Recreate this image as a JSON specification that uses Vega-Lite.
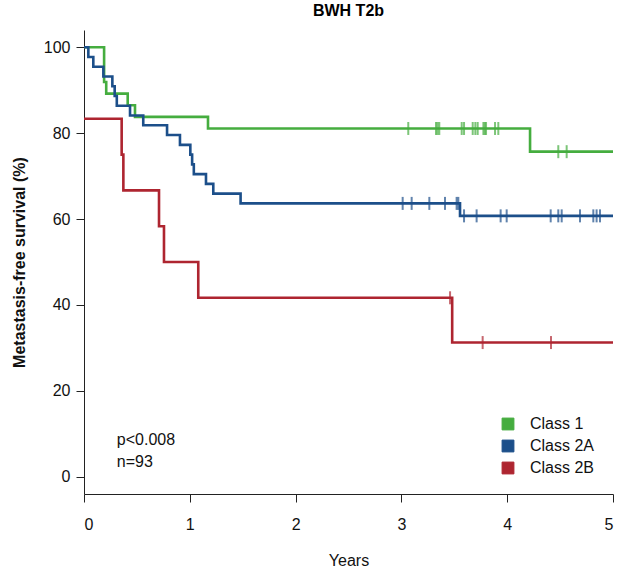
{
  "$schema": "https://vega.github.io/schema/vega-lite/v6.json",
  "width": 529,
  "height": 464,
  "autosize": {"type": "none"},
  "padding": {"left": 84, "top": 30, "right": 5, "bottom": 77},
  "title": {"text": "BWH T2b", "fontSize": 16, "fontWeight": "bold", "font": "Liberation Sans", "color": "black", "offset": 11, "anchor": "middle"},
  "config": {
    "view": {"stroke": null},
    "font": "Liberation Sans",
    "axis": {"grid": false, "domainColor": "#222", "tickColor": "#222", "labelColor": "#111", "titleColor": "#111", "labelFont": "Liberation Sans", "titleFont": "Liberation Sans", "labelFontSize": 16, "titleFontSize": 16, "tickSize": 8}
  },
  "datasets": {
    "surv": [
      {"class": "Class 1", "t": 0, "s": 100},
      {"class": "Class 1", "t": 0.19, "s": 91.89},
      {"class": "Class 1", "t": 0.21, "s": 89.19},
      {"class": "Class 1", "t": 0.413, "s": 86.49},
      {"class": "Class 1", "t": 0.482, "s": 83.78},
      {"class": "Class 1", "t": 1.172, "s": 81.08},
      {"class": "Class 1", "t": 4.216, "s": 75.68},
      {"class": "Class 1", "t": 5, "s": 75.68},
      {"class": "Class 2A", "t": 0, "s": 100},
      {"class": "Class 2A", "t": 0.041, "s": 97.73},
      {"class": "Class 2A", "t": 0.088, "s": 95.45},
      {"class": "Class 2A", "t": 0.183, "s": 93.18},
      {"class": "Class 2A", "t": 0.268, "s": 90.91},
      {"class": "Class 2A", "t": 0.29, "s": 88.64},
      {"class": "Class 2A", "t": 0.31, "s": 86.36},
      {"class": "Class 2A", "t": 0.435, "s": 84.09},
      {"class": "Class 2A", "t": 0.56, "s": 81.82},
      {"class": "Class 2A", "t": 0.785, "s": 79.55},
      {"class": "Class 2A", "t": 0.907, "s": 77.27},
      {"class": "Class 2A", "t": 1.005, "s": 75.0},
      {"class": "Class 2A", "t": 1.022, "s": 72.73},
      {"class": "Class 2A", "t": 1.038, "s": 70.45},
      {"class": "Class 2A", "t": 1.153, "s": 68.18},
      {"class": "Class 2A", "t": 1.222, "s": 65.91},
      {"class": "Class 2A", "t": 1.48, "s": 63.64},
      {"class": "Class 2A", "t": 3.554, "s": 60.74},
      {"class": "Class 2A", "t": 5, "s": 60.74},
      {"class": "Class 2B", "t": 0, "s": 83.33},
      {"class": "Class 2B", "t": 0.356, "s": 75.0},
      {"class": "Class 2B", "t": 0.372, "s": 66.67},
      {"class": "Class 2B", "t": 0.709, "s": 58.33},
      {"class": "Class 2B", "t": 0.756, "s": 50.0},
      {"class": "Class 2B", "t": 1.08, "s": 41.67},
      {"class": "Class 2B", "t": 3.48, "s": 31.25},
      {"class": "Class 2B", "t": 5, "s": 31.25}
    ],
    "cens": [
      {"class": "Class 1", "t": 3.065, "s": 81.08},
      {"class": "Class 1", "t": 3.327, "s": 81.08},
      {"class": "Class 1", "t": 3.342, "s": 81.08},
      {"class": "Class 1", "t": 3.358, "s": 81.08},
      {"class": "Class 1", "t": 3.57, "s": 81.08},
      {"class": "Class 1", "t": 3.592, "s": 81.08},
      {"class": "Class 1", "t": 3.674, "s": 81.08},
      {"class": "Class 1", "t": 3.699, "s": 81.08},
      {"class": "Class 1", "t": 3.721, "s": 81.08},
      {"class": "Class 1", "t": 3.775, "s": 81.08},
      {"class": "Class 1", "t": 3.788, "s": 81.08},
      {"class": "Class 1", "t": 3.8, "s": 81.08},
      {"class": "Class 1", "t": 3.885, "s": 81.08},
      {"class": "Class 1", "t": 3.916, "s": 81.08},
      {"class": "Class 1", "t": 4.483, "s": 75.68},
      {"class": "Class 1", "t": 4.562, "s": 75.68},
      {"class": "Class 2A", "t": 3.012, "s": 63.64},
      {"class": "Class 2A", "t": 3.097, "s": 63.64},
      {"class": "Class 2A", "t": 3.264, "s": 63.64},
      {"class": "Class 2A", "t": 3.412, "s": 63.64},
      {"class": "Class 2A", "t": 3.522, "s": 63.64},
      {"class": "Class 2A", "t": 3.538, "s": 63.64},
      {"class": "Class 2A", "t": 3.592, "s": 60.74},
      {"class": "Class 2A", "t": 3.711, "s": 60.74},
      {"class": "Class 2A", "t": 3.938, "s": 60.74},
      {"class": "Class 2A", "t": 3.995, "s": 60.74},
      {"class": "Class 2A", "t": 4.411, "s": 60.74},
      {"class": "Class 2A", "t": 4.483, "s": 60.74},
      {"class": "Class 2A", "t": 4.515, "s": 60.74},
      {"class": "Class 2A", "t": 4.688, "s": 60.74},
      {"class": "Class 2A", "t": 4.814, "s": 60.74},
      {"class": "Class 2A", "t": 4.845, "s": 60.74},
      {"class": "Class 2A", "t": 4.877, "s": 60.74},
      {"class": "Class 2B", "t": 3.46, "s": 41.67},
      {"class": "Class 2B", "t": 3.768, "s": 31.25},
      {"class": "Class 2B", "t": 4.414, "s": 31.25}
    ],
    "notes": [
      {"label": "p<0.008", "t": 0.31, "s": 8.6},
      {"label": "n=93", "t": 0.31, "s": 3.5}
    ]
  },
  "layer": [
    {
      "data": {"name": "surv"},
      "mark": {"type": "line", "interpolate": "step-after", "strokeWidth": 2.6},
      "encoding": {
        "x": {"field": "t", "type": "quantitative", "scale": {"domain": [0, 5], "nice": false, "zero": false}, "axis": {"values": [0, 1, 2, 3, 4, 5], "format": "d", "title": "Years", "titleFontWeight": "normal", "labelPadding": 14, "titlePadding": 20}},
        "y": {"field": "s", "type": "quantitative", "scale": {"domain": [-4, 104], "nice": false, "zero": false}, "axis": {"values": [0, 20, 40, 60, 80, 100], "title": "Metastasis-free survival (%)", "titleFontWeight": "bold", "labelPadding": 6, "titlePadding": 16}},
        "color": {
          "field": "class", "type": "nominal",
          "scale": {"domain": ["Class 1", "Class 2A", "Class 2B"], "range": ["#45ad3f", "#1c4f8a", "#ae2530"]},
          "legend": {
            "title": null, "orient": "none", "legendX": 416, "legendY": 386,
            "symbolType": "square", "symbolSize": 140, "labelFontSize": 16, "labelFont": "Liberation Sans", "labelColor": "#111", "rowPadding": 6, "labelOffset": 14,
            "encode": {"symbols": {"update": {"fill": {"scale": "color", "field": "value"}, "stroke": {"value": "#222"}, "strokeWidth": {"value": 1}, "shape": {"value": "square"}, "opacity": {"value": 1}}}}
          }
        },
        "detail": {"field": "class"}
      }
    },
    {
      "data": {"name": "cens"},
      "mark": {"type": "tick", "orient": "vertical", "size": 13, "thickness": 2},
      "encoding": {
        "x": {"field": "t", "type": "quantitative"},
        "y": {"field": "s", "type": "quantitative"},
        "color": {"field": "class", "type": "nominal"}
      }
    },
    {
      "data": {"name": "notes"},
      "mark": {"type": "text", "align": "left", "baseline": "middle", "fontSize": 16, "font": "Liberation Sans", "color": "#111"},
      "encoding": {
        "x": {"field": "t", "type": "quantitative"},
        "y": {"field": "s", "type": "quantitative"},
        "text": {"field": "label"}
      }
    },
    {
      "mark": {"type": "rule", "color": "#333", "strokeWidth": 1},
      "encoding": {"x": {"datum": 5}}
    },
    {
      "mark": {"type": "rule", "color": "#e4e4e4", "strokeWidth": 1},
      "encoding": {"y": {"datum": 104}}
    }
  ]
}
